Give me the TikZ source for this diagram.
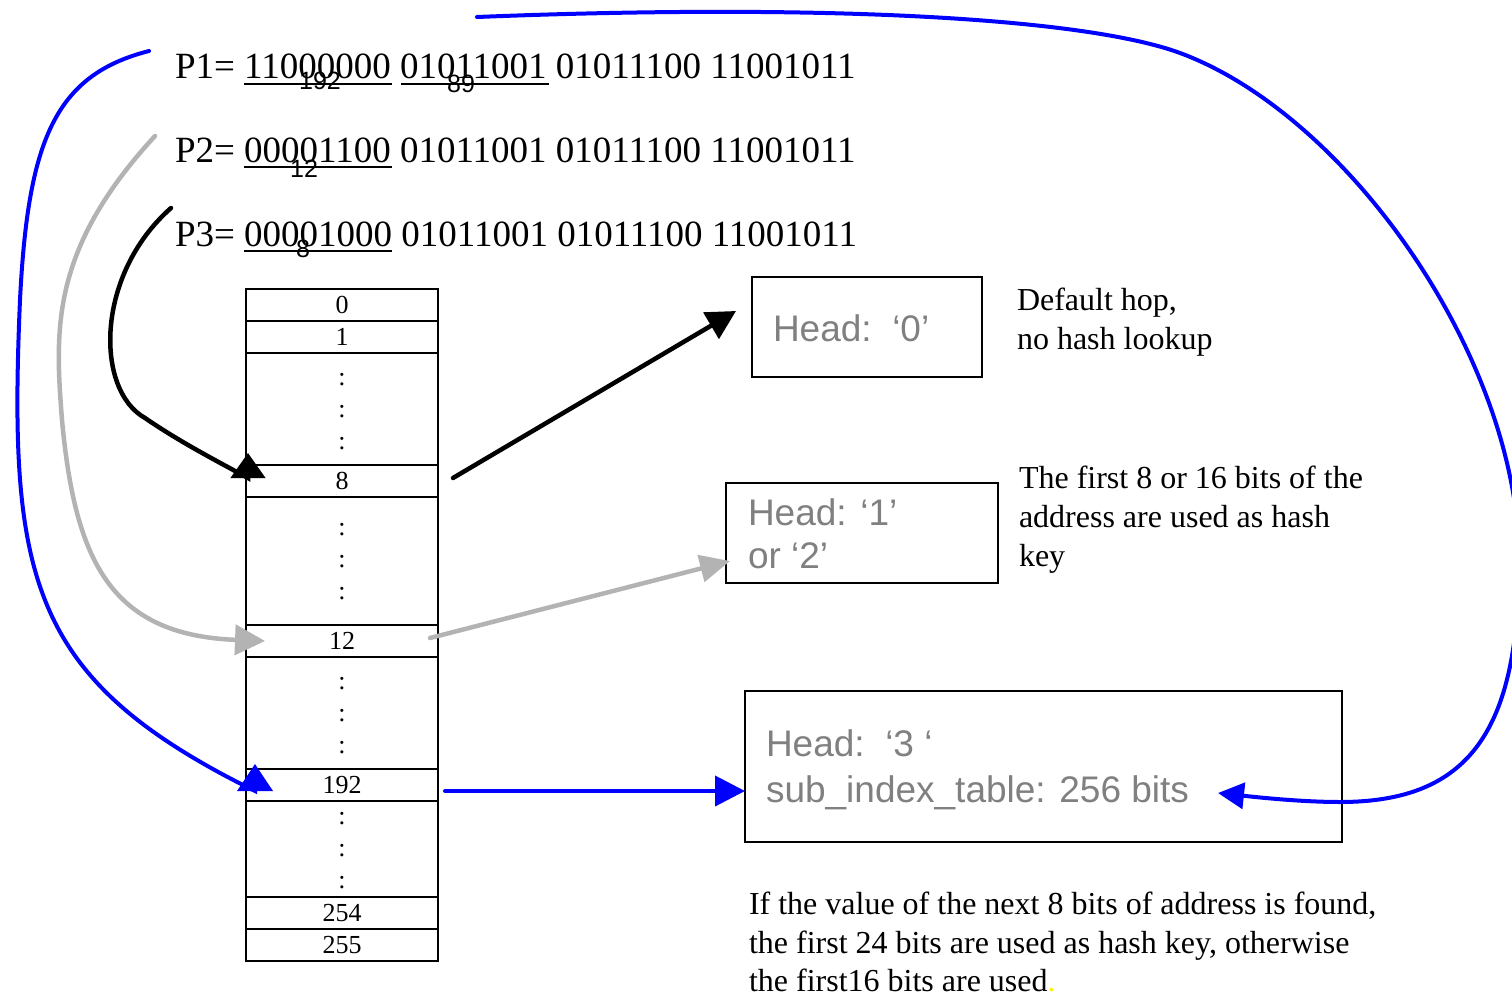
\documentclass[tikz,border=0pt]{standalone}
\usepackage{fontspec}
\setmainfont{Liberation Serif}
\newfontfamily\arialf{Liberation Sans}
\usetikzlibrary{arrows.meta,calc}
\definecolor{lgray}{RGB}{179,179,179}
\definecolor{tgray}{RGB}{128,128,128}
\definecolor{pblue}{RGB}{0,0,255}
\begin{document}
\begin{tikzpicture}[x=1pt,y=-1pt,
  lbl/.style={inner sep=0pt, outer sep=0pt},
  serline/.style={lbl, anchor=base west, font=\fontsize{32}{39}\selectfont},
  bigline/.style={lbl, anchor=base west, font=\fontsize{37}{44}\selectfont},
  numlbl/.style={lbl, font=\arialf\fontsize{25}{25}\selectfont},
  cell/.style={draw, line width=2pt, minimum width=192pt, inner sep=0pt, outer sep=0pt, font=\fontsize{26}{26}\selectfont},
  dotcol/.style={lbl, align=center, font=\fontsize{26}{32}\selectfont},
  hbox/.style={draw, line width=2pt, inner sep=0pt, outer sep=0pt},
  htext/.style={lbl, anchor=base west, text=tgray, font=\arialf\fontsize{37}{44}\selectfont},
  uline/.style={line width=2pt},
  blk/.style={line width=4.5pt, black, line cap=round},
  gry/.style={line width=4.5pt, lgray, line cap=round},
  blu/.style={line width=4pt, pblue, line cap=round},
]
\useasboundingbox (0,0) rectangle (1512,995);
\clip (0,0) rectangle (1512,995);

% address lines
\node[bigline] (p1) at (175,79) {P1= 11000000 01011001 01011100 11001011};
\node[bigline] (p2) at (175,163) {P2= 00001100 01011001 01011100 11001011};
\node[bigline] (p3) at (175,247) {P3= 00001000 01011001 01011100 11001011};
\draw[uline] ($(p1.base west)+(69,5)$) -- ++(148,0);
\draw[uline] ($(p1.base west)+(226,5)$) -- ++(148,0);
\draw[uline] ($(p2.base west)+(69,4)$) -- ++(148,0);
\draw[uline] ($(p3.base west)+(69,4)$) -- ++(148,0);
\node[numlbl] (n192) at (320,81) {192};
\node[numlbl] (n89) at (461,84) {89};
\node[numlbl] (n12) at (304,169) {12};
\node[numlbl] (n8) at (303,249) {8};

% table
\node[cell, minimum height=32pt] (r0) at (342,305) {0};
\node[cell, minimum height=32pt] (r1) at (342,337) {1};
\node[cell, minimum height=112pt] (g1) at (342,409) {};
\node[cell, minimum height=32pt] (r8) at (342,481) {8};
\node[cell, minimum height=128pt] (g2) at (342,561) {};
\node[cell, minimum height=32pt] (r12) at (342,641) {12};
\node[cell, minimum height=112pt] (g3) at (342,713) {};
\node[cell, minimum height=32pt] (r192) at (342,785) {192};
\node[cell, minimum height=96pt] (g4) at (342,849) {};
\node[cell, minimum height=32pt] (r254) at (342,913) {254};
\node[cell, minimum height=32pt] (r255) at (342,945) {255};
\node[dotcol] (d1) at (342,412) {:\\:\\:};
\node[dotcol] (d2) at (342,562) {:\\:\\:};
\node[dotcol] (d3) at (342,716) {:\\:\\:};
\node[dotcol] (d4) at (342,851) {:\\:\\:};

% boxes
\node[hbox, minimum width=230pt, minimum height=100pt] (box0) at (867,327) {};
\node[hbox, minimum width=272pt, minimum height=100pt] (box1) at (862,533) {};
\node[hbox, minimum width=597pt, minimum height=151pt] (box3) at (1043.5,766.5) {};
\node[htext] (h0) at (773,341) {Head:\ \ ‘0’};
\node[htext] (h1a) at (748,525) {Head: ‘1’};
\node[htext] (h1b) at (748,568) {or ‘2’};
\node[htext] (h3a) at (766,756) {Head:\ \ ‘3 ‘};
\node[htext] (h3b) at (766,802) {sub\_index\_table: 256 bits};

% side texts
\node[serline] (t0a) at (1017,310) {Default hop,};
\node[serline] (t0b) at (1017,349) {no hash lookup};
\node[serline] (t1a) at (1019,488) {The first 8 or 16 bits of the};
\node[serline] (t1b) at (1019,527) {address are used as hash};
\node[serline] (t1c) at (1019,566) {key};
\node[serline] (b1) at (749,914) {If the value of the next 8 bits of address is found,};
\node[serline] (b2) at (749,953) {the first 24 bits are used as hash key, otherwise};
\node[serline] (b3) at (749,991) {the first16 bits are used{\color{yellow}.}};

% connector ends
\coordinate (s0) at (477,17);
\coordinate (s1) at (149,51);
\coordinate (s2) at (155,136);
\coordinate (s3) at (171,208);
\coordinate (t3) at (1218,793);

% curved arrows into the table
\draw[blk, -{Triangle[length=25pt,width=34pt]}] (s3) .. controls (95,275) and (95,390) .. (145,418)
  .. controls (180,442) and (215,460) .. ($(r8.west)+(2,-3)$) -- ($(r8.west)+(2,-28)$);
\draw[gry, -{Triangle[length=30pt,width=30pt]}] (s2) .. controls (50,250) and (55,330) .. (62,420)
  .. controls (75,560) and (110,635) .. ($(r12.west)+(19,0)$);
\draw[blu, -{Triangle[length=27pt,width=35pt]}] (s1) .. controls (55,75) and (28,140) .. (20,300)
  .. controls (8,580) and (30,680) .. ($(r192.west)+(9,6)$) -- ($(r192.west)+(9,-21)$);
\draw[blu, -{Triangle[length=26pt,width=26pt]}] (s0) .. controls (827,3) and (1086,18.3) .. (1180,53)
  .. controls (1349,115.5) and (1519,360) .. (1519,560)
  .. controls (1519,730) and (1470,802) .. (1340,802)
  .. controls (1300,802) and (1255,797) .. (t3);

% straight arrows out of the table
\draw[blk, -{Triangle[length=29pt,width=30pt]}] ($(r8.east)+(15,-3)$) -- ($(box0.west)+(-16,-16)$);
\draw[gry, -{Triangle[length=30pt,width=27pt]}] ($(r12.east)+(-8,-3)$) -- ($(box1.west)+(4,28)$);
\draw[blu, -{Triangle[length=30pt,width=30pt]}] ($(r192.east)+(7,6)$) -- ($(box3.west)+(0,24.5)$);
\end{tikzpicture}
\end{document}
